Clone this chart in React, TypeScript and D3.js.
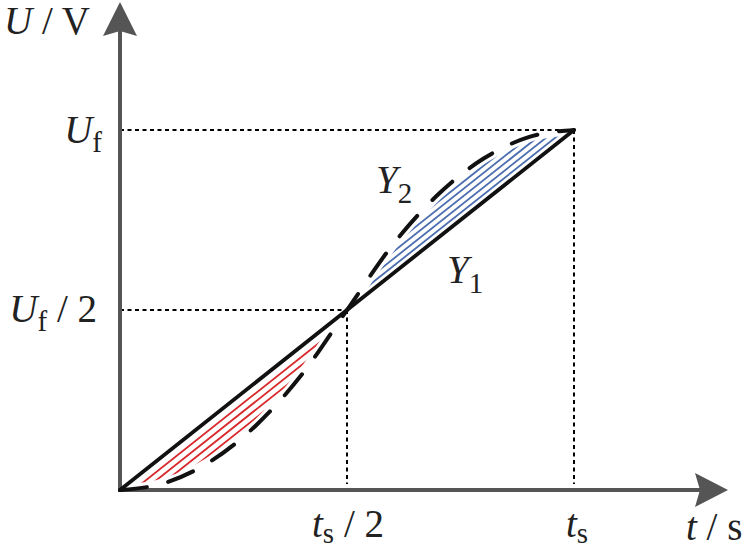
import React from 'react';
import * as d3 from 'd3';

// normalised time t/ts and voltage U/Uf
const tPoints = [0, 0.1, 0.2, 0.3, 0.4, 0.5, 0.6, 0.7, 0.8, 0.9, 1];
const uLinear = [0, 0.1, 0.2, 0.3, 0.4, 0.5, 0.6, 0.7, 0.8, 0.9, 1];
const uCurve = [0, 0.02, 0.08, 0.18, 0.32, 0.5, 0.68, 0.82, 0.92, 0.98, 1];

// hatch offsets (vertical, in U/Uf) between Y1 and the dashed curve
const redOffsets = [0.03, 0.053, 0.076, 0.099];
const blueOffsets = [0.02, 0.04, 0.06, 0.08, 0.1];

const xTicks = [0.5, 1];
const yTicks = [0.5, 1];

const W = 745, H = 551;
const SERIF = 'Liberation Serif, Times New Roman, Times, DejaVu Serif, serif';

export default function App() {
  const x = d3.scaleLinear().domain([0, 1]).range([120, 574]);
  const y = d3.scaleLinear().domain([0, 1]).range([490, 130]);

  const pts = tPoints.map((t, i) => ({ t, lin: uLinear[i], cur: uCurve[i] }));

  const curveLine = d3.line<any>()
    .curve(d3.curveMonotoneX)
    .x(d => x(d.t))
    .y(d => y(d.cur));

  const straight = d3.line<any>()
    .x(d => x(d.t))
    .y(d => y(d.lin));

  const between = d3.area<any>()
    .curve(d3.curveMonotoneX)
    .x(d => x(d.t))
    .y0(d => y(d.cur))
    .y1(d => y(d.lin));

  const x0 = x(0), y0 = y(0);
  const textStyle = { fontFamily: SERIF, fill: '#222' };
  const FS = 39, SUB = 29;

  return (
    <div style={{ position: 'absolute', left: 0, top: 0, width: W, height: H, background: '#fff' }}>
      <svg width={W} height={H} style={{ display: 'block' }}>
        <defs>
          <clipPath id="between">
            <path d={between(pts) || ''} />
          </clipPath>
        </defs>

        {/* hatching */}
        <g clipPath="url(#between)">
          {redOffsets.map((o, i) => (
            <line key={'r' + i}
              x1={x(0)} y1={y(0 - o)} x2={x(0.5)} y2={y(0.5 - o)}
              stroke="#d8282c" strokeWidth={1.8} />
          ))}
          {blueOffsets.map((o, i) => (
            <line key={'b' + i}
              x1={x(0.5)} y1={y(0.5 + o)} x2={x(1)} y2={y(1 + o)}
              stroke="#4a6db0" strokeWidth={1.8} />
          ))}
        </g>
        {/* clear band around the dashed curve */}
        <path d={curveLine(pts) || ''} fill="none" stroke="#fff" strokeWidth={10} />

        {/* guide lines */}
        {xTicks.map((t, i) => (
          <line key={'gx' + i} x1={x(t)} x2={x(t)} y1={y(uLinear[tPoints.indexOf(t)])} y2={y0 - 6}
            stroke="#000" strokeWidth={2} strokeDasharray="4 3.5" />
        ))}
        {yTicks.map((u, i) => (
          <line key={'gy' + i} x1={x0} x2={x(u)} y1={y(u)} y2={y(u)}
            stroke="#000" strokeWidth={2} strokeDasharray="4 3.5" />
        ))}

        {/* axes */}
        <line x1={x0 - 2} y1={y0} x2={700} y2={y0} stroke="#555" strokeWidth={4} />
        <line x1={x0} y1={y0 + 2} x2={x0} y2={30} stroke="#555" strokeWidth={4} />
        <path d={`M728,${y0} L695,${y0 - 17} L700,${y0} L695,${y0 + 17} Z`} fill="#555" />
        <path d={`M${x0},2 L${x0 - 17},36 L${x0},31 L${x0 + 17},36 Z`} fill="#555" />

        {/* Y1 straight and Y2 dashed */}
        <path d={straight([pts[0], pts[pts.length - 1]]) || ''} fill="none" stroke="#111" strokeWidth={3.8} strokeLinecap="round" />
        <path d={curveLine(pts) || ''} fill="none" stroke="#111" strokeWidth={4}
          strokeDasharray="27 22" strokeLinecap="round" />

        {/* labels */}
        <text x={4} y={34} fontSize={FS} style={textStyle}>
          <tspan fontStyle="italic">U</tspan><tspan> / V</tspan>
        </text>
        <text x={102} y={143} fontSize={FS} textAnchor="end" style={textStyle}>
          <tspan fontStyle="italic">U</tspan><tspan fontSize={SUB} dy={9}>f</tspan>
        </text>
        <text x={97} y={322} fontSize={FS} textAnchor="end" style={textStyle}>
          <tspan fontStyle="italic">U</tspan><tspan fontSize={SUB} dy={9}>f</tspan><tspan dy={-9}> / 2</tspan>
        </text>
        <text x={312} y={537} fontSize={FS} style={textStyle}>
          <tspan fontStyle="italic">t</tspan><tspan fontSize={SUB} dy={6}>s</tspan><tspan dy={-6}> / 2</tspan>
        </text>
        <text x={566} y={537} fontSize={FS} style={textStyle}>
          <tspan fontStyle="italic">t</tspan><tspan fontSize={SUB} dy={6}>s</tspan>
        </text>
        <text x={686} y={540} fontSize={FS} style={textStyle}>
          <tspan fontStyle="italic">t</tspan><tspan> / s</tspan>
        </text>
        <text x={376} y={193} fontSize={FS} style={textStyle}>
          <tspan fontStyle="italic">Y</tspan><tspan fontSize={SUB} dy={10}>2</tspan>
        </text>
        <text x={447} y={283} fontSize={FS} style={textStyle}>
          <tspan fontStyle="italic">Y</tspan><tspan fontSize={SUB} dy={10}>1</tspan>
        </text>
      </svg>
    </div>
  );
}
